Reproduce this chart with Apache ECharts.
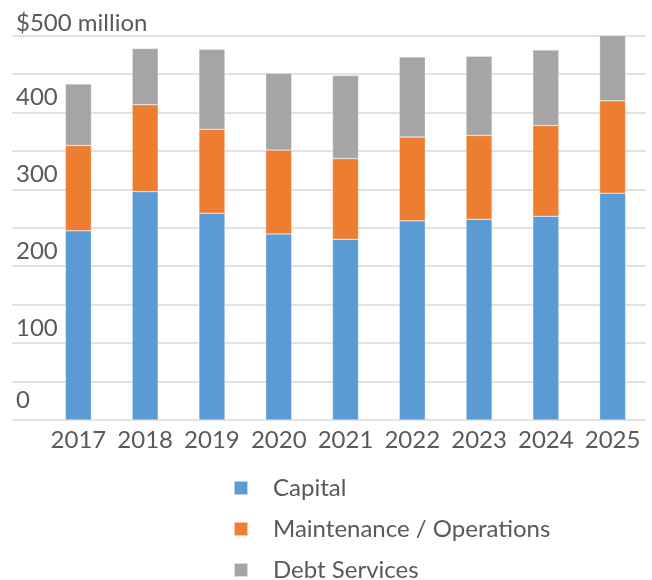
<!DOCTYPE html>
<html>
<head>
<meta charset="utf-8">
<script src="https://cdn.jsdelivr.net/npm/echarts@6/dist/echarts.min.js"></script>
<style>
  html, body { margin: 0; padding: 0; background: #fff; }
  #chart { width: 652px; height: 580px; }
</style>
</head>
<body>
<div id="chart"></div>
<script>
// values in $ million
var years = ['2017', '2018', '2019', '2020', '2021', '2022', '2023', '2024', '2025'];
var capital = [246, 297, 269, 242, 235, 259, 261, 265, 295];
var maintenance = [111, 113, 109, 109, 105, 109, 109, 118, 120];
var debt = [80, 73, 104, 100, 108, 104, 103, 98, 85];
var seriesNames = ['Capital', 'Maintenance / Operations', 'Debt Services'];
var colors = ['#5B9BD5', '#ED7D31', '#A5A5A5'];

var font = 'Lato, "Open Sans", sans-serif';
var textColor = '#595959';

var chart = echarts.init(document.getElementById('chart'));

function barSeries(name, data, i) {
  return {
    name: name,
    type: 'bar',
    stack: 'total',
    xAxisIndex: 1,
    yAxisIndex: 1,
    barWidth: 26,
    itemStyle: { color: colors[i], borderColor: 'rgba(255,255,255,0.6)', borderWidth: 0.5 },
    data: data
  };
}

var option = {
  animation: false,
  color: colors,
  textStyle: { fontFamily: font },
  grid: [
    // gridlines + y labels span wider than the bars
    { left: 12, right: 6, top: 35.5, bottom: 160 },
    { left: 45, right: 6, top: 35.5, bottom: 160 }
  ],
  xAxis: [
    { gridIndex: 0, type: 'value', show: false },
    {
      gridIndex: 1,
      type: 'category',
      data: years,
      axisLine: { show: false },
      axisTick: { show: false },
      axisLabel: { interval: 0, color: textColor, fontSize: 24, fontFamily: font, margin: 8 }
    }
  ],
  yAxis: [
    {
      gridIndex: 0,
      type: 'value',
      min: 0,
      max: 500,
      interval: 50,
      axisLine: { show: false },
      axisTick: { show: false },
      splitLine: { lineStyle: { color: '#D9D9D9', width: 1.5 } },
      axisLabel: {
        inside: true,
        margin: 4,
        verticalAlign: 'bottom',
        color: textColor,
        fontSize: 24,
        fontFamily: font,
        formatter: function (v) {
          if (v === 500) return '{top|$500 million}';
          if (v === 0) return '{z|0}';
          return v % 100 === 0 ? '{t|' + v + '}' : '';
        },
        rich: {
          top: { fontSize: 24, color: textColor, fontFamily: font },
          t: { fontSize: 24, color: textColor, fontFamily: font, padding: [0, 0, 3, 0] },
          z: { fontSize: 24, color: textColor, fontFamily: font, padding: [0, 0, 8, 0] }
        }
      }
    },
    { gridIndex: 1, type: 'value', min: 0, max: 500, show: false }
  ],
  legend: {
    orient: 'vertical',
    left: 233,
    top: 476,
    height: 200,
    padding: 0,
    icon: 'rect',
    itemWidth: 14,
    itemHeight: 14,
    itemGap: 17,
    data: seriesNames,
    textStyle: { color: textColor, fontSize: 24, fontFamily: font, padding: [0, 0, 0, 20] }
  },
  series: [
    barSeries(seriesNames[0], capital, 0),
    barSeries(seriesNames[1], maintenance, 1),
    barSeries(seriesNames[2], debt, 2)
  ]
};

chart.setOption(option);
</script>
</body>
</html>
